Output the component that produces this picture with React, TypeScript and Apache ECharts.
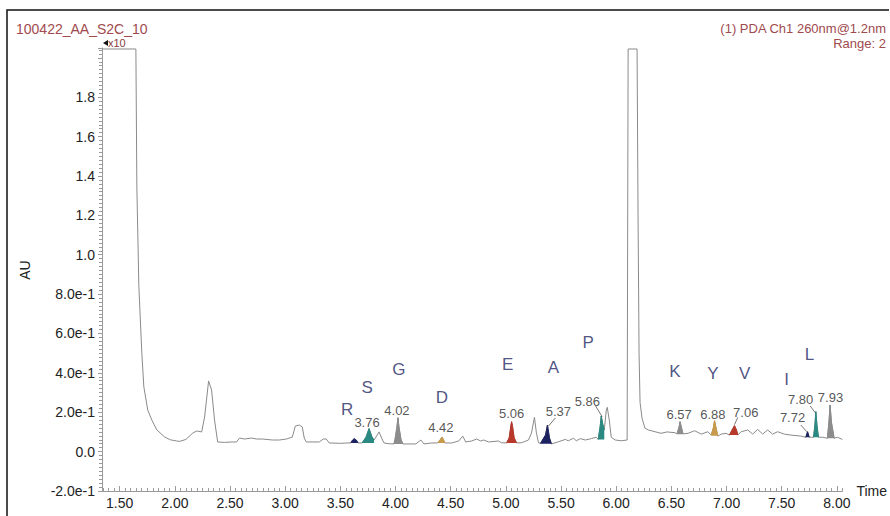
import React, { useEffect, useRef } from 'react';
import * as echarts from 'echarts';

// ---- chromatogram trace (time [min], AU), peak interiors excluded ----
const baseTrace: [number, number][] = [
  [1.34, 2.045], [1.647, 2.045], [1.656, 1.34], [1.674, 0.84], [1.701, 0.5], [1.719, 0.33],
  [1.755, 0.21], [1.792, 0.16], [1.837, 0.11], [1.909, 0.074], [1.96, 0.06], [2.017, 0.054],
  [2.044, 0.052], [2.1, 0.062], [2.162, 0.094], [2.198, 0.105], [2.243, 0.1], [2.27, 0.176],
  [2.306, 0.359], [2.333, 0.313], [2.36, 0.16], [2.388, 0.049], [2.45, 0.047], [2.52, 0.049],
  [2.559, 0.049], [2.586, 0.069], [2.631, 0.064], [2.695, 0.069], [2.74, 0.064], [2.794, 0.064],
  [2.884, 0.059], [2.948, 0.059], [3.011, 0.064], [3.065, 0.074], [3.092, 0.13], [3.128, 0.135],
  [3.155, 0.125], [3.173, 0.069], [3.191, 0.049], [3.309, 0.049], [3.345, 0.064], [3.372, 0.064],
  [3.399, 0.044], [3.5, 0.042], [3.56, 0.044],
  [3.679, 0.044],
  [3.823, 0.074], [3.851, 0.1], [3.878, 0.064], [3.896, 0.044], [3.94, 0.04],
  [4.094, 0.039], [4.184, 0.039], [4.23, 0.059], [4.257, 0.039], [4.329, 0.044],
  [4.51, 0.044], [4.573, 0.054], [4.609, 0.079], [4.636, 0.049], [4.69, 0.054], [4.736, 0.064],
  [4.772, 0.054], [4.799, 0.059], [4.844, 0.049], [4.934, 0.054], [4.96, 0.045],
  [5.142, 0.045], [5.205, 0.059], [5.232, 0.094], [5.259, 0.174], [5.277, 0.094], [5.296, 0.045],
  [5.476, 0.05], [5.539, 0.062], [5.566, 0.055], [5.612, 0.068], [5.639, 0.055], [5.675, 0.066],
  [5.72, 0.059], [5.774, 0.066], [5.819, 0.073],
  [5.91, 0.211], [5.919, 0.225], [5.937, 0.16], [5.955, 0.073], [5.991, 0.059], [6.045, 0.055],
  [6.099, 0.059], [6.108, 2.045], [6.189, 2.045], [6.198, 1.2], [6.207, 0.5], [6.216, 0.25],
  [6.234, 0.17], [6.26, 0.12], [6.289, 0.11], [6.352, 0.101], [6.406, 0.093], [6.461, 0.1],
  [6.533, 0.096],
  [6.651, 0.093], [6.711, 0.106], [6.771, 0.089], [6.831, 0.101],
  [6.951, 0.089], [6.996, 0.093],
  [7.132, 0.101], [7.192, 0.11], [7.237, 0.089], [7.282, 0.113], [7.327, 0.089], [7.372, 0.11],
  [7.417, 0.089], [7.463, 0.101], [7.523, 0.089], [7.583, 0.084], [7.673, 0.079],
  [7.77, 0.073],
  [7.869, 0.073],
  [8.005, 0.073], [8.05, 0.062],
];

// ---- integrated (filled) peaks ----
const peakShapes: [number, number][][] = [
  [[3.595, 0.044], [3.61, 0.058], [3.625, 0.066], [3.645, 0.058], [3.661, 0.044]],
  [[3.697, 0.044], [3.733, 0.074], [3.76, 0.117], [3.787, 0.074], [3.805, 0.059]],
  [[3.986, 0.039], [3.995, 0.06], [4.013, 0.125], [4.022, 0.172], [4.031, 0.125], [4.05, 0.06], [4.067, 0.039]],
  [[4.383, 0.044], [4.405, 0.06], [4.42, 0.074], [4.435, 0.06], [4.447, 0.044]],
  [[5.007, 0.044], [5.03, 0.07], [5.045, 0.13], [5.052, 0.152], [5.06, 0.13], [5.075, 0.07], [5.097, 0.044]],
  [[5.314, 0.042], [5.359, 0.084], [5.377, 0.135], [5.395, 0.07], [5.413, 0.039]],
  [[5.837, 0.062], [5.855, 0.13], [5.864, 0.181], [5.878, 0.14], [5.892, 0.11]],
  [[6.551, 0.09], [6.57, 0.125], [6.578, 0.152], [6.59, 0.125], [6.605, 0.09]],
  [[6.861, 0.084], [6.88, 0.12], [6.891, 0.157], [6.905, 0.12], [6.921, 0.079]],
  [[7.026, 0.084], [7.05, 0.11], [7.072, 0.132], [7.09, 0.11], [7.102, 0.084]],
  [[7.718, 0.073], [7.734, 0.101], [7.749, 0.073]],
  [[7.788, 0.073], [7.8, 0.13], [7.809, 0.203], [7.82, 0.13], [7.833, 0.073]],
  [[7.914, 0.068], [7.928, 0.15], [7.938, 0.237], [7.95, 0.15], [7.975, 0.068]],
];
const peakBases = [0.044, 0.044, 0.039, 0.044, 0.044, 0.04, 0.062, 0.088, 0.08, 0.084, 0.073, 0.073, 0.068];
const peakColors = ['#1c2160', '#2a8a82', '#8c8c8c', '#c99a4a', '#b8382a', '#1c2160', '#2a8a82',
  '#8c8c8c', '#c99a4a', '#b8382a', '#1c2160', '#2a8a82', '#8c8c8c'];

// ---- retention time annotations ----
const rtLabels = ['3.76', '4.02', '4.42', '5.06', '5.37', '5.86', '6.57', '6.88', '7.06', '7.72', '7.80', '7.93'];
const rtLabelPos: [number, number][] = [
  [3.742, 0.15], [4.013, 0.211], [4.411, 0.12], [5.052, 0.196], [5.476, 0.206], [5.738, 0.257],
  [6.57, 0.191], [6.876, 0.191], [7.174, 0.201], [7.598, 0.171], [7.671, 0.267], [7.942, 0.277],
];
const leaderLines: [number, number][][] = [
  [[5.449, 0.171], [5.386, 0.13]],
  [[5.813, 0.232], [5.873, 0.177]],
  [[7.102, 0.174], [7.072, 0.137]],
  [[7.673, 0.135], [7.727, 0.101]],
  [[7.758, 0.232], [7.803, 0.198]],
];

// ---- amino acid letters ----
const aaLetters = ['R', 'S', 'G', 'D', 'E', 'A', 'P', 'K', 'Y', 'V', 'I', 'L'];
const aaLetterPos: [number, number][] = [
  [3.562, 0.216], [3.742, 0.328], [4.031, 0.419], [4.42, 0.277], [5.016, 0.445], [5.431, 0.425],
  [5.747, 0.552], [6.533, 0.409], [6.876, 0.399], [7.165, 0.399], [7.544, 0.364], [7.752, 0.491],
];

// ---- axes ----
const xLabelValues = [1.5, 2.0, 2.5, 3.0, 3.5, 4.0, 4.5, 5.0, 5.5, 6.0, 6.5, 7.0, 7.5, 8.0];
const X_MIN = 1.34;
const X_MAX = 8.05;
const Y_MIN = -0.2;
const Y_MAX = 2.05;

const FONT = '"Liberation Sans", Arial, sans-serif';

export default function App() {
  const ref = useRef<HTMLDivElement>(null);

  useEffect(() => {
    if (!ref.current) return;
    const chart = echarts.init(ref.current, undefined, { renderer: 'svg' });

    const trace = [...baseTrace, ...peakShapes.flat()].sort((a, b) => a[0] - b[0]);
    const minorX: number[] = [];
    for (let k = 27; k <= 161; k++) minorX.push(Math.round(k * 5) / 100);

    const series: any[] = [
      {
        type: 'line',
        data: trace,
        symbol: 'none',
        lineStyle: { color: '#8a8a8a', width: 1 },
        z: 2,
        silent: true,
      },
      ...peakShapes.map((shape, i) => ({
        type: 'line',
        data: shape,
        symbol: 'none',
        lineStyle: { color: peakColors[i], width: 1 },
        areaStyle: { color: peakColors[i], opacity: 1, origin: peakBases[i] },
        z: 3,
        silent: true,
      })),
      ...leaderLines.map((seg) => ({
        type: 'line',
        data: seg,
        symbol: 'none',
        lineStyle: { color: '#555', width: 0.8 },
        z: 4,
        silent: true,
      })),
      {
        type: 'scatter',
        data: rtLabelPos.map((p, i) => ({ value: p, name: rtLabels[i] })),
        symbolSize: 1,
        itemStyle: { color: 'rgba(0,0,0,0)' },
        label: {
          show: true,
          position: 'inside',
          formatter: '{b}',
          color: '#2a2a2a',
          fontSize: 13,
          fontFamily: FONT,
        },
        z: 5,
        silent: true,
      },
      {
        type: 'scatter',
        data: aaLetterPos.map((p, i) => ({ value: p, name: aaLetters[i] })),
        symbolSize: 1,
        itemStyle: { color: 'rgba(0,0,0,0)' },
        label: {
          show: true,
          position: 'inside',
          formatter: '{b}',
          color: '#242864',
          fontSize: 17,
          fontFamily: FONT,
        },
        z: 5,
        silent: true,
      },
    ];

    chart.setOption({
      animation: false,
      backgroundColor: '#fff',
      textStyle: { fontFamily: FONT },
      grid: { left: 102, right: 45, top: 48, bottom: 25, containLabel: false },
      xAxis: [
        {
          type: 'value',
          min: X_MIN,
          max: X_MAX,
          name: 'Time',
          nameLocation: 'end',
          nameGap: 8,
          nameTextStyle: { color: '#222', fontSize: 14, fontFamily: FONT },
          axisLine: { show: true, onZero: false, lineStyle: { color: '#9a9a9a', width: 1 } },
          axisTick: {
            show: true,
            inside: true,
            length: 5,
            customValues: xLabelValues,
            lineStyle: { color: '#9a9a9a' },
          },
          axisLabel: {
            customValues: xLabelValues,
            formatter: (v: number) => v.toFixed(2),
            color: '#222',
            fontSize: 14,
            margin: 5,
            fontFamily: FONT,
          },
          splitLine: { show: false },
        },
        {
          type: 'value',
          min: X_MIN,
          max: X_MAX,
          position: 'bottom',
          axisLine: { show: false, onZero: false },
          axisTick: {
            show: true,
            inside: true,
            length: 3,
            customValues: minorX,
            lineStyle: { color: '#9a9a9a' },
          },
          axisLabel: { show: false },
          splitLine: { show: false },
        },
      ],
      yAxis: {
        type: 'value',
        min: Y_MIN,
        max: Y_MAX,
        interval: 0.2,
        axisLine: { show: true, onZero: false, lineStyle: { color: '#9a9a9a', width: 1 } },
        axisTick: { show: true, inside: false, length: 4, lineStyle: { color: '#9a9a9a' } },
        minorTick: { show: true, splitNumber: 10, length: 3, lineStyle: { color: '#9a9a9a' } },
        axisLabel: {
          color: '#222',
          fontSize: 14,
          margin: 7,
          fontFamily: FONT,
          formatter: (v: number) => {
            if (Math.abs(v) < 1e-9) return '0.0';
            if (v > 1.95) return '';
            if (Math.abs(v) >= 0.999) return v.toFixed(1);
            return v.toExponential(1);
          },
        },
        splitLine: { show: false },
        minorSplitLine: { show: false },
      },
      graphic: [
        {
          type: 'polyline',
          shape: { points: [[7, 520], [7, 10], [889, 10]] },
          style: { stroke: '#111', lineWidth: 1.5, fill: 'none' },
          silent: true,
        },
        {
          type: 'text',
          x: 16,
          y: 29,
          style: {
            text: '100422_AA_S2C_10',
            fill: '#a04a4e',
            font: `14px ${FONT}`,
            verticalAlign: 'middle',
            align: 'left',
          },
        },
        {
          type: 'polygon',
          shape: { points: [[103, 43], [108, 40], [108, 46]] },
          style: { fill: '#111' },
        },
        {
          type: 'text',
          x: 108,
          y: 43,
          style: {
            text: 'x10',
            fill: '#8a3c3c',
            font: `11px ${FONT}`,
            verticalAlign: 'middle',
            align: 'left',
          },
        },
        {
          type: 'text',
          x: 886,
          y: 28,
          style: {
            text: '(1) PDA Ch1 260nm@1.2nm',
            fill: '#a04a4e',
            font: `13px ${FONT}`,
            verticalAlign: 'middle',
            align: 'right',
          },
        },
        {
          type: 'text',
          x: 886,
          y: 43,
          style: {
            text: 'Range: 2',
            fill: '#a04a4e',
            font: `13px ${FONT}`,
            verticalAlign: 'middle',
            align: 'right',
          },
        },
        {
          type: 'text',
          x: 25,
          y: 270,
          rotation: Math.PI / 2,
          style: {
            text: 'AU',
            fill: '#222',
            font: `14px ${FONT}`,
            verticalAlign: 'middle',
            align: 'center',
          },
        },
      ],
      series,
    });

    return () => chart.dispose();
  }, []);

  return (
    <div
      ref={ref}
      style={{ position: 'absolute', left: 0, top: 0, width: 890, height: 516, background: '#fff' }}
    />
  );
}
